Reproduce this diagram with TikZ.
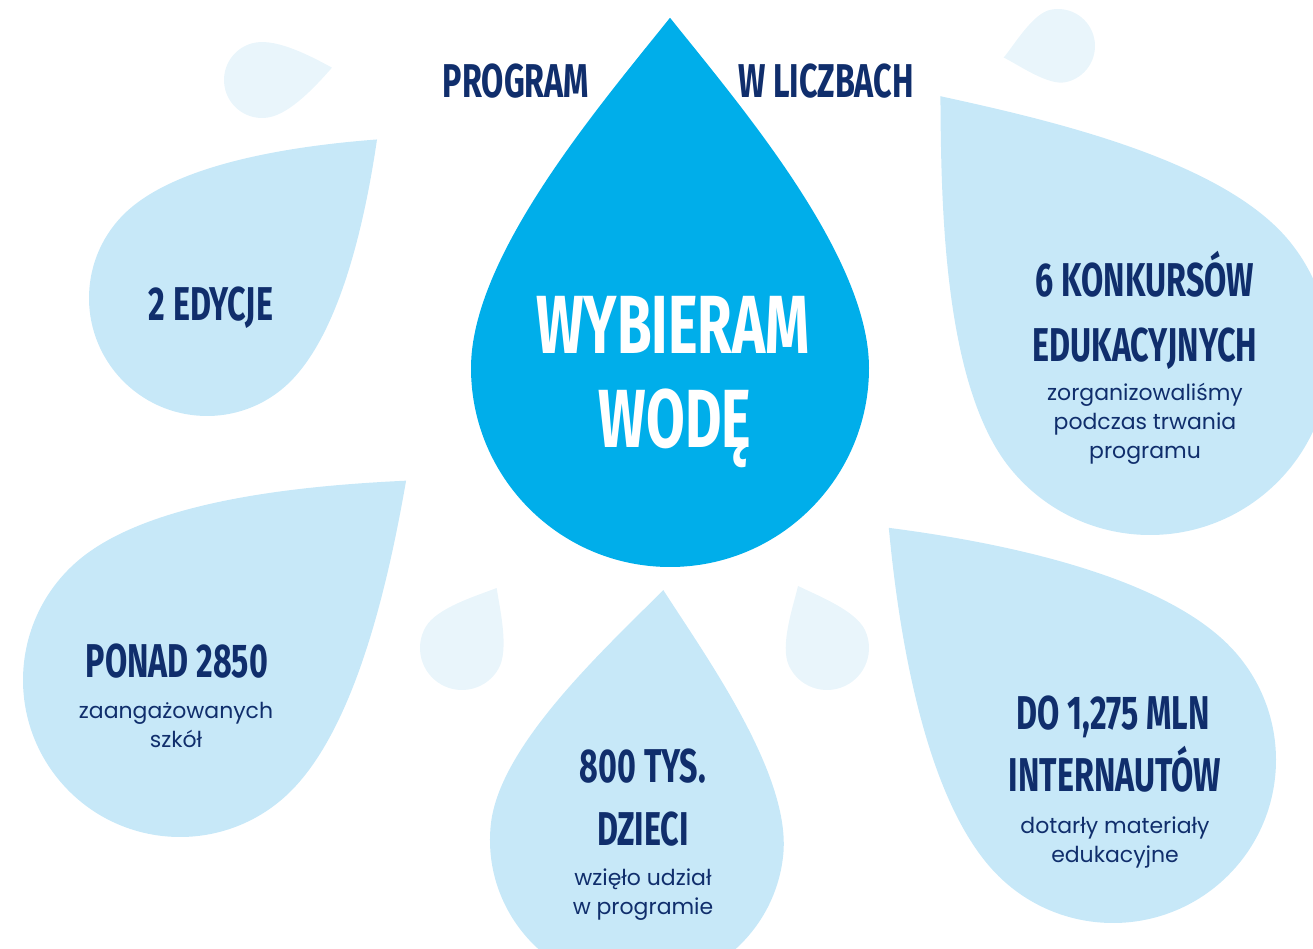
\documentclass[tikz,border=0pt]{standalone}
\usepackage{fontspec}
\setmainfont{Poppins}
\newfontfamily\handfont[FakeStretch=0.68]{Fira Sans}
\definecolor{waterblue}{RGB}{0,174,234}
\definecolor{lightwater}{RGB}{199,232,248}
\definecolor{paledrop}{RGB}{233,245,251}
\definecolor{navytext}{RGB}{16,46,108}
\begin{document}
\begin{tikzpicture}[
            x=0.02cm, y=0.02cm,
            drop/.pic={
                \fill[pic actions] (0,#1) .. controls (-0.2*#1,0.75*#1) and (-1,0.32*#1) .. (-1,0)
                    arc[start angle=180, end angle=360, radius=1]
                    .. controls (1,0.32*#1) and (0.2*#1,0.75*#1) .. (0,#1) -- cycle;
            },
            bignum/.style={
                font=\handfont\bfseries\fontsize{27}{30}\selectfont, text=navytext, anchor=base
            },
            titletext/.style={
                font=\handfont\bfseries\fontsize{47}{50}\selectfont, text=white, anchor=base
            },
            note/.style={
                font=\fontsize{12.5}{15}\selectfont, text=navytext, anchor=base
            }
        ]
        \useasboundingbox (0,0) rectangle (1313,948);
        \clip (0,0) rectangle (1313,948);

        % drops
        \pic[fill=paledrop, rotate=-80, scale=38] at (262,868) {drop=1.87};
        \pic[fill=paledrop, rotate=102, scale=37] at (1058,902) {drop=1.5};
        \pic[fill=paledrop, rotate=-30, scale=42] at (462,300) {drop=1.65};
        \pic[fill=paledrop, rotate=25, scale=42] at (827,300) {drop=1.63};
        \pic[fill=lightwater, rotate=-47, scale=118] at (207,650) {drop=1.97};
        \pic[fill=lightwater, rotate=39, scale=180] at (1150,593) {drop=1.85};
        \pic[fill=lightwater, rotate=-48.6, scale=157] at (180,268) {drop=1.92};
        \pic[fill=lightwater, rotate=-6, scale=147] at (637,108) {drop=1.71};
        \pic[fill=lightwater, rotate=44, scale=163] at (1113,188) {drop=1.98};
        \pic[fill=waterblue, scale=199] at (670,580) {drop=1.76};

        % texts
        \node[bignum] (program) at (516,850) {PROGRAM};
        \node[bignum] (liczbach) at (826,850) {W LICZBACH};
        \node[titletext] (wybieram) at (673,594) {WYBIERAM};
        \node[titletext] (wode) at (675,500) {WODĘ};

        \node[bignum] (edycje) at (211,627) {2 EDYCJE};

        \node[bignum] (konkursy) at (1145,651) {6 KONKURSÓW};
        \node[bignum] (edukacyjnych) at (1145,586) {EDUKACYJNYCH};
        \node[note] (konkursy1) at (1145,547) {zorganizowaliśmy};
        \node[note] (konkursy2) at (1145,518) {podczas trwania};
        \node[note] (konkursy3) at (1145,489) {programu};

        \node[bignum] (szkoly) at (177,271) {PONAD 2850};
        \node[note] (szkoly1) at (176,230) {zaangażowanych};
        \node[note] (szkoly2) at (176,201) {szkół};

        \node[bignum] (dzieci) at (643,166) {800 TYS.};
        \node[bignum] (dzieci0) at (643,103) {DZIECI};
        \node[note] (dzieci1) at (643,63) {wzięło udział};
        \node[note] (dzieci2) at (643,34) {w programie};

        \node[bignum] (internauci) at (1113,219) {DO 1,275 MLN};
        \node[bignum] (internauci0) at (1115,157) {INTERNAUTÓW};
        \node[note] (internauci1) at (1115,115) {dotarły materiały};
        \node[note] (internauci2) at (1115,86) {edukacyjne};
\end{tikzpicture}
\end{document}
